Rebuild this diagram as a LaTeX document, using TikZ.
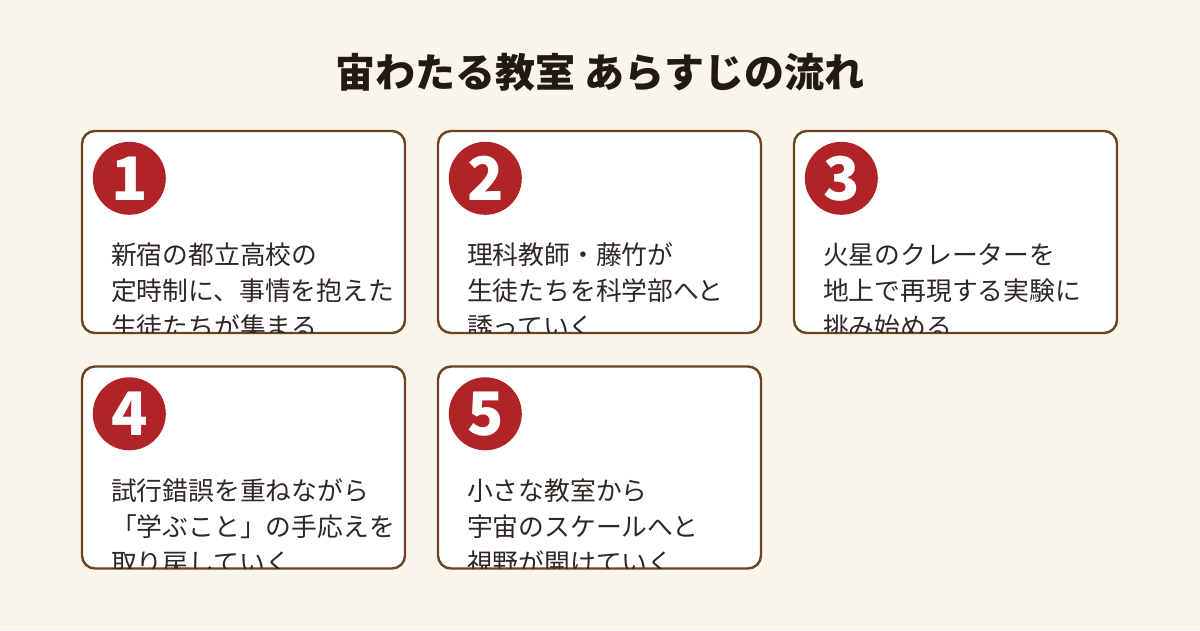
\documentclass[tikz,border=0pt]{standalone}
\usepackage{fontspec}
\setmainfont{Noto Sans CJK JP}
\usetikzlibrary{positioning}
\definecolor{paper}{HTML}{FAF5EA}
\definecolor{edge}{HTML}{6B4426}
\definecolor{badge}{HTML}{B12326}
\definecolor{ink}{HTML}{2E2724}
\definecolor{headink}{HTML}{231813}

\begin{document}
\begin{tikzpicture}[x=1pt, y=1pt,
    card/.style={draw=edge, line width=2.4pt, rounded corners=13pt, fill=white, minimum width=323pt, minimum height=202pt, inner sep=0pt},
    num/.style={circle, fill=badge, minimum size=73pt, inner sep=0pt, text=white, font=\fontsize{60pt}{60pt}\selectfont\bfseries},
    body/.style={anchor=north west, align=left, inner sep=0pt, text=ink, font=\fontsize{25.8pt}{36pt}\selectfont},
    ttl/.style={text=headink, font=\fontsize{40pt}{44pt}\selectfont\bfseries}
]
\fill[paper] (0,0) rectangle (1200,630);
\useasboundingbox (0,0) rectangle (1200,630);

\node[ttl] (title) at (600,558) {宙わたる教室 あらすじの流れ};

% top row
\node[card] (card1) at (243.5,398) {};
\node[card] (card2) at (599.5,398) {};
\node[card] (card3) at (955.5,398) {};
% bottom row
\node[card] (card4) at (243.5,162.5) {};
\node[card] (card5) at (599.5,162.5) {};

\node[num] (num1) at ([shift={(48.5pt,-48.5pt)}]card1.north west) {1};
\node[num] (num2) at ([shift={(48.5pt,-48.5pt)}]card2.north west) {2};
\node[num] (num3) at ([shift={(48.5pt,-48.5pt)}]card3.north west) {3};
\node[num] (num4) at ([shift={(48.5pt,-48.5pt)}]card4.north west) {4};
\node[num] (num5) at ([shift={(48.5pt,-48.5pt)}]card5.north west) {5};

\begin{scope}
\clip[rounded corners=11pt] ([shift={(1.5pt,-1.5pt)}]card1.north west) rectangle ([shift={(-1.5pt,1.5pt)}]card1.south east);
\node[body, below right=113pt and 30pt of card1.north west] (txt1) {新宿の都立高校の\\定時制に、事情を抱えた\\生徒たちが集まる};
\end{scope}
\begin{scope}
\clip[rounded corners=11pt] ([shift={(1.5pt,-1.5pt)}]card2.north west) rectangle ([shift={(-1.5pt,1.5pt)}]card2.south east);
\node[body, below right=113pt and 30pt of card2.north west] (txt2) {理科教師・藤竹が\\生徒たちを科学部へと\\誘っていく};
\end{scope}
\begin{scope}
\clip[rounded corners=11pt] ([shift={(1.5pt,-1.5pt)}]card3.north west) rectangle ([shift={(-1.5pt,1.5pt)}]card3.south east);
\node[body, below right=113pt and 30pt of card3.north west] (txt3) {火星のクレーターを\\地上で再現する実験に\\挑み始める};
\end{scope}
\begin{scope}
\clip[rounded corners=11pt] ([shift={(1.5pt,-1.5pt)}]card4.north west) rectangle ([shift={(-1.5pt,1.5pt)}]card4.south east);
\node[body, below right=113pt and 30pt of card4.north west] (txt4) {試行錯誤を重ねながら\\「学ぶこと」の手応えを\\取り戻していく};
\end{scope}
\begin{scope}
\clip[rounded corners=11pt] ([shift={(1.5pt,-1.5pt)}]card5.north west) rectangle ([shift={(-1.5pt,1.5pt)}]card5.south east);
\node[body, below right=113pt and 30pt of card5.north west] (txt5) {小さな教室から\\宇宙のスケールへと\\視野が開けていく};
\end{scope}
\end{tikzpicture}
\end{document}
